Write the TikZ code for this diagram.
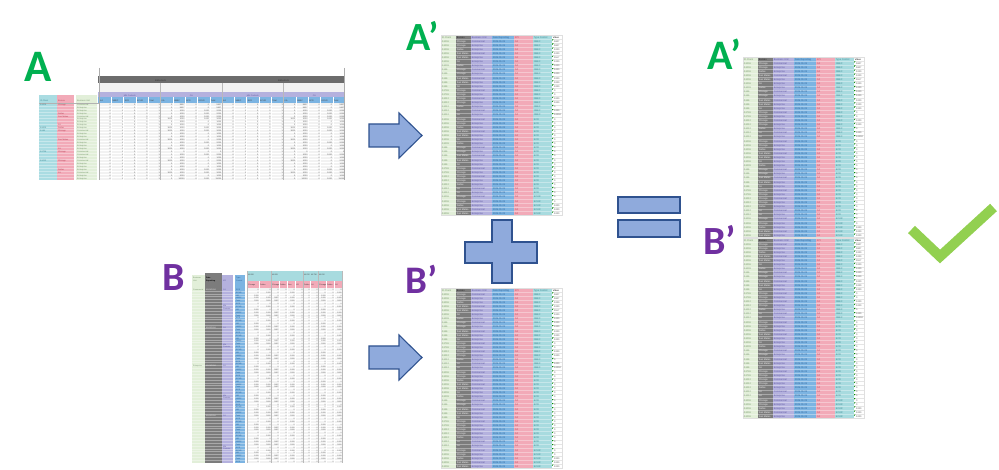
\documentclass[tikz,border=0pt]{standalone}
\usepackage{fontspec}
\setmainfont{Liberation Sans}
\newfontfamily\labelfont{Carlito}
\definecolor{agreen}{RGB}{0,176,80}
\definecolor{bpurple}{RGB}{112,48,160}
\definecolor{arrfill}{RGB}{143,170,220}
\definecolor{arrdraw}{RGB}{47,82,143}
\definecolor{chk}{RGB}{146,208,80}
\definecolor{cgreen}{RGB}{226,239,217}
\definecolor{cdark}{RGB}{124,124,124}
\definecolor{cpurple}{RGB}{180,177,222}
\definecolor{cblue}{RGB}{124,180,226}
\definecolor{cpink}{RGB}{242,170,184}
\definecolor{cteal}{RGB}{168,219,223}
\definecolor{ccyan}{RGB}{170,220,226}
\definecolor{clbg}{RGB}{242,242,242}
\definecolor{cbar}{RGB}{108,108,108}
\definecolor{tgreen}{RGB}{120,150,110}
\definecolor{tpurple}{RGB}{95,90,160}
\definecolor{tblue}{RGB}{45,95,150}
\definecolor{tred}{RGB}{185,70,90}
\definecolor{tteal}{RGB}{60,135,145}
\definecolor{tgray}{RGB}{85,85,85}
\tikzset{
  pc/.style={anchor=base west, inner sep=0pt, font=\fontsize{2.4}{2.4}\selectfont},
  ac/.style={anchor=base west, inner sep=0pt, font=\fontsize{2.1}{2.1}\selectfont},
  bc/.style={anchor=base west, inner sep=0pt, font=\fontsize{1.9}{1.9}\selectfont},
  big/.style={anchor=base west, inner sep=0pt, font=\labelfont\bfseries\fontsize{#1}{#1}\selectfont},
  blockshape/.style={fill=arrfill, draw=arrdraw, line width=1.1pt, line join=miter},
  rowline/.style={white, opacity=0.35, line width=0.3pt},
}
\newcommand\primerows{%
A1006/Chicago/Commercial/NBEC/5807,
A1006/Chicago/Enterprise/NBEC/5807,
A1006/Dallas/Enterprise/NBEC/1000,
A1006/San Mateo/Commercial/NBEC/1000,
A1006/San Mateo/Enterprise/NBEC/1167,
A1006/JH/Enterprise/NBEC/1000,
A1009/Dallas/Enterprise/NBEC/1000,
A146/Chicago/Commercial/NBEC/1000,
A146/Chicago/Enterprise/NBEC/1000,
A146/San Mateo/Commercial/NBEC/1000,
A146/San Mateo/Enterprise/NBEC/1000,
A146/JH/Enterprise/NBEC/1000,
A1736/Chicago/Commercial/NBEC/0,
A1736/Chicago/Enterprise/NBEC/0,
A1012/Chicago/Commercial/NBEC/1000,
A1012/Chicago/Enterprise/NBEC/1000,
A1012/Dallas/Enterprise/NBEC/0,
A1012/JH/Commercial/NBEC/1000,
A1012/JH/Enterprise/NBEC/10000,
A1006/Chicago/Commercial/ECR/0,
A1006/Chicago/Enterprise/ECR/0,
A1006/Dallas/Enterprise/ECR/0,
A1006/San Mateo/Commercial/ECR/0,
A1006/San Mateo/Enterprise/ECR/0,
A1006/JH/Enterprise/ECR/0,
A1009/Dallas/Enterprise/ECR/0,
A146/Chicago/Commercial/ECR/0,
A146/Chicago/Enterprise/ECR/0,
A146/San Mateo/Commercial/ECR/0,
A146/San Mateo/Enterprise/ECR/0,
A146/JH/Enterprise/ECR/0,
A1736/Chicago/Commercial/ECR/0,
A1736/Chicago/Enterprise/ECR/0,
A1012/Chicago/Commercial/ECR/0,
A1012/Chicago/Enterprise/ECR/0,
A1012/Dallas/Enterprise/ECR/0,
A1012/JH/Commercial/ECR/0,
A1012/JH/Enterprise/ECR/0,
A1006/Chicago/Commercial/ECUR/0,
A1006/Chicago/Enterprise/ECUR/0,
A1006/Dallas/Enterprise/ECUR/1000,
A1006/San Mateo/Commercial/ECUR/1000,
A1006/San Mateo/Enterprise/ECUR/1000}
\newcommand\primetable[2]{%
\begin{scope}[shift={(#1,#2)}]
  \fill[cgreen] (0,0) rectangle (15,180.4);
  \fill[cdark] (15,0) rectangle (30,180.4);
  \fill[cpurple] (30,0) rectangle (51,180.4);
  \fill[cblue] (51,0) rectangle (73,180.4);
  \fill[cpink] (73,0) rectangle (92,180.4);
  \fill[cteal] (92,0) rectangle (111,180.4);
  \fill[white] (111,0) rectangle (121,180.4);
  \foreach \r in {1,...,43}{
    \draw[rowline] (0,\r*4.1) -- (111,\r*4.1);
    \draw[gray!20, line width=0.3pt] (111,\r*4.1) -- (121,\r*4.1);
    \fill[green!55!black] (111.2,\r*4.1+0.3) -- ++(1.3,0) -- ++(-1.3,1.3) -- cycle;
  }
  \draw[gray!25, line width=0.3pt] (0,0) rectangle (121,180.4);
  \node[pc, text=tgreen] at (0.7,3.1) {ID Client};
  \node[pc, text=black!85] at (15.7,3.1) {Bureau};
  \node[pc, text=tpurple] at (30.7,3.1) {Business Unit};
  \node[pc, text=tblue] at (51.7,3.1) {Date Reporting};
  \node[pc, text=tred] at (73.7,3.1) {KPI};
  \node[pc, text=tteal] at (92.7,3.1) {Type Control};
  \node[pc, text=black] at (111.7,3.1) {Value};
  \foreach \id/\bur/\bu/\ty/\va [count=\i] in \primerows {
    \node[pc, text=tgreen] at (0.7,{3.1+\i*4.1}) {\id};
    \node[pc, text=gray!10] at (15.7,{3.1+\i*4.1}) {\bur};
    \node[pc, text=tpurple] at (30.7,{3.1+\i*4.1}) {\bu};
    \node[pc, text=tblue] at (51.7,{3.1+\i*4.1}) {2025-01-01};
    \node[pc, text=tred] at (73.7,{3.1+\i*4.1}) {CA};
    \node[pc, text=tteal] at (92.7,{3.1+\i*4.1}) {\ty};
    \node[pc, text=tgray] at (113,{3.1+\i*4.1}) {\va};
  }
\end{scope}}
\newcommand\nbx[1]{\makebox[12.3pt][r]{#1\hspace{0.8pt}}}
\newcommand\mktvals{\nbx{0}\nbx{1}\nbx{0}\nbx{0}\nbx{1}}
\newcommand\cavals[1]{\ifcase#1\relax
  \nbx{0}\nbx{5807}\nbx{0}\nbx{0}\nbx{5807}\or
  \nbx{0}\nbx{1000}\nbx{0}\nbx{1000}\nbx{2000}\or
  \nbx{1000}\nbx{1000}\nbx{0}\nbx{1000}\nbx{3000}\or
  \nbx{0}\nbx{1000}\nbx{0}\nbx{0}\nbx{1000}\or
  \nbx{0}\nbx{0}\nbx{0}\nbx{0}\nbx{0}\or
  \nbx{1000}\nbx{1000}\nbx{0}\nbx{0}\nbx{2000}\or
  \nbx{0}\nbx{10000}\nbx{0}\nbx{1000}\nbx{11000}\fi}
\newcommand\bx[2]{\makebox[#1pt][r]{#2\hspace{0.5pt}}}
\newcommand\btype[1]{\ifcase#1\relax ECR\or ECUR\or NB\or NBEC\or Total\fi}
\newcommand\bvals[1]{\ifcase#1\relax
  \bx{12}{0}\bx{12}{0}\bx{8}{0}\bx{8}{0}\bx{8}{0}\bx{8}{0}\bx{7}{0}\bx{8}{0}\bx{8}{0}\bx{8}{0}\bx{8}{0}\or
  \bx{12}{0}\bx{12}{1000}\bx{8}{0}\bx{8}{0}\bx{8}{1000}\bx{8}{0}\bx{7}{0}\bx{8}{0}\bx{8}{0}\bx{8}{0}\bx{8}{1000}\or
  \bx{12}{1000}\bx{12}{0}\bx{8}{0}\bx{8}{0}\bx{8}{0}\bx{8}{0}\bx{7}{0}\bx{8}{0}\bx{8}{1000}\bx{8}{0}\bx{8}{0}\or
  \bx{12}{1000}\bx{12}{1000}\bx{8}{3867}\bx{8}{0}\bx{8}{1000}\bx{8}{0}\bx{7}{0}\bx{8}{0}\bx{8}{1000}\bx{8}{0}\bx{8}{1000}\or
  \bx{12}{2000}\bx{12}{3000}\bx{8}{3867}\bx{8}{0}\bx{8}{2000}\bx{8}{0}\bx{7}{0}\bx{8}{0}\bx{8}{2000}\bx{8}{0}\bx{8}{3000}\fi}
\begin{document}
\begin{tikzpicture}[x=1pt,y=-1pt]
\useasboundingbox (0,0) rectangle (999,470);
\fill[white] (0,0) rectangle (999,470);

% ---------------- Table A ----------------
\fill[ccyan] (39,95) rectangle (57,180);
\fill[cpink] (57,95) rectangle (74,180);
\fill[cgreen] (76,95) rectangle (97,180);
\fill[clbg] (99,83) rectangle (345,92);
\fill[cbar] (98,76) rectangle (345,83);
\fill[cpurple] (98,92) rectangle (345,97.5);
\fill[cblue] (98,97.5) rectangle (345,103);
\fill[clbg] (99,103) rectangle (345,180);
\foreach \g in {0,...,3}{
  \foreach \k in {1,...,4}{
    \draw[white, line width=0.4pt] ({99+61.5*\g+12.3*\k},97.5) -- ({99+61.5*\g+12.3*\k},180);
  }
}
\foreach \r in {1,...,25}{
  \draw[rowline] (39,{103+\r*2.96}) -- (97,{103+\r*2.96});
  \draw[white, line width=0.3pt] (99,{103+\r*2.96}) -- (345,{103+\r*2.96});
}
\foreach \xx in {160.5,222,283.5}{
  \draw[gray!55, line width=0.4pt] (\xx,83) -- (\xx,180);
}
\draw[gray!65, line width=0.5pt] (99,68) -- (99,180);
\draw[gray!65, line width=0.5pt] (344.5,68) -- (344.5,180);
\draw[gray!60, line width=0.3pt] (39,103) -- (99,103);
\node[ac, anchor=base, text=black!85] at (160.5,81.2) {2025-01-01};
\node[ac, anchor=base, text=black!85] at (283.5,81.2) {2025-02-01};
\foreach \t [count=\g from 0] in {Mkt Controls,CA,Mkt Controls,CA}{
  \node[ac, anchor=base, text=tpurple] at ({129.75+61.5*\g},96.2) {\t};
  \foreach \s [count=\k from 0] in {KA,NBEC,ECR,ECUR,Total}{
    \node[ac, text=black!75] at ({100+61.5*\g+12.3*\k},101.6) {\s};
  }
}
\node[ac, text=tteal] at (40,101.6) {ID Client};
\node[ac, text=tred] at (58,101.6) {Bureau};
\node[ac, text=tgreen] at (77,101.6) {Business Unit};
\foreach \id/\bur/\bu/\ca [count=\i from 0] in {
  A1006/Chicago/Commercial/0, {}/{}/Enterprise/0, {}/{}/Enterprise/1,
  {}/Dallas/Enterprise/1, {}/San Mateo/Commercial/1, {}/{}/Enterprise/2,
  {}/{}/Enterprise/3, {}/JH/Enterprise/3, A1009/Dallas/Enterprise/2,
  A146/Chicago/Commercial/2, {}/{}/Enterprise/3, {}/{}/Enterprise/3,
  {}/San Mateo/Commercial/5, {}/{}/Enterprise/1, {}/{}/Enterprise/3,
  {}/JH/Enterprise/2, A1736/Chicago/Commercial/4, {}/{}/Commercial/1,
  {}/{}/Enterprise/3, A1012/Chicago/Commercial/5, {}/{}/Enterprise/3,
  {}/{}/Enterprise/3, {}/Dallas/Enterprise/1, {}/JH/Commercial/2,
  {}/{}/Enterprise/3, {}/{}/Enterprise/6}{
  \node[ac, text=tteal] at (40,{105.2+\i*2.96}) {\id};
  \node[ac, text=tred] at (58,{105.2+\i*2.96}) {\bur};
  \node[ac, text=tgreen] at (77,{105.2+\i*2.96}) {\bu};
  \node[ac, text=tgray] at (99,{105.2+\i*2.96}) {\mktvals\cavals{\ca}\mktvals\cavals{\ca}};
}

% ---------------- Table B ----------------
\fill[cgreen] (192,275) rectangle (205,463);
\fill[cdark] (205,273) rectangle (222,463);
\fill[cpurple] (222,275) rectangle (233,463);
\fill[cblue] (235,275) rectangle (245,463);
\fill[clbg] (247,288) rectangle (342,463);
\fill[cteal] (247,271) rectangle (342,281);
\fill[cpink] (247,281) rectangle (342,288);
\foreach \r in {1,...,60}{
  \draw[rowline] (192,{288+\r*2.87}) -- (245,{288+\r*2.87});
  \draw[white, line width=0.3pt] (247,{288+\r*2.87}) -- (342,{288+\r*2.87});
}
\foreach \xx in {259,279,287,295,310,326,334}{
  \draw[white, line width=0.4pt] (\xx,281) -- (\xx,463);
}
\foreach \xx in {247,271,303,318,342}{
  \draw[gray!55, line width=0.4pt] (\xx,271) -- (\xx,463);
}
\node[bc, text=tgreen] at (193,278.6) {Business};
\node[bc, text=tgreen] at (193,281.4) {Unit};
\node[bc, text=black, font=\fontsize{1.9}{1.9}\selectfont\bfseries] at (206,278.6) {Date};
\node[bc, text=black, font=\fontsize{1.9}{1.9}\selectfont\bfseries] at (206,281.4) {Reporting};
\node[bc, text=tpurple] at (223,281.4) {KPI};
\node[bc, text=tblue] at (236,278.6) {Type};
\node[bc, text=tblue] at (236,281.4) {Control};
\foreach \t/\xx in {A1006/248,A1009/272,A1012/304,A1736/311,A1012/319}{
  \node[bc, text=black!75] at (\xx,275.5) {\t};
}
\foreach \t/\xx in {Chicago/248,Dallas/260,Chicago/272,Dallas/280,San/288,US/296,Dallas/304,JH/311,Chicago/319,Dallas/327,JH/335}{
  \node[bc, text=black!75] at (\xx,285.4) {\t};
}
\foreach \t/\yy in {Commercial/290.3,Enterprise/366.5}{
  \node[bc, text=tgreen] at (193,\yy) {\t};
}
\foreach \t/\yy in {{01/01/2024}/290.3,{01/02/2024}/328.5,{01/01/2024}/366.5,{01/02/2024}/416.5}{
  \node[bc, text=gray!10] at (206,\yy) {\t};
}
\foreach \yy in {290.3,328.5,366.5,416.5}{
  \node[bc, text=tpurple] at (223,\yy) {CA};
}
\foreach \yy in {306.5,345,396,447}{
  \node[bc, text=tpurple] at (223,\yy) {Mkt};
  \node[bc, text=tpurple] at (223,\yy+2.6) {Controls};
}
\foreach \i in {0,...,60}{
  \pgfmathtruncatemacro\k{mod(\i,5)}
  \node[bc, text=tblue] at (236,{290.3+\i*2.87}) {\btype{\k}};
  \node[bc, text=tgray] at (247,{290.3+\i*2.87}) {\bvals{\k}};
}

% ---------------- A' / B' tables ----------------
\primetable{441}{35}
\primetable{441}{288}
\primetable{743}{57}
\primetable{743}{238}

% ---------------- labels ----------------
\node[big=45, text=agreen] (labA) at (24,82) {A};
\node[big=40, text=bpurple] (labB) at (162,291) {B};
\node[big=40, text=agreen] (labAp) at (406,51) {A’};
\node[big=39, text=bpurple] (labBp) at (405,294) {B’};
\node[big=42, text=agreen] (labApR) at (707,70) {A’};
\node[big=40, text=bpurple] (labBpR) at (703,255) {B’};

% ---------------- arrows, plus, equals, check ----------------
\draw[blockshape] (369,124) -- (399,124) -- (399,113) -- (422,135.5) -- (399,158) -- (399,147) -- (369,147) -- cycle;
\draw[blockshape] (369,346) -- (399,346) -- (399,335) -- (422,357.5) -- (399,380) -- (399,369) -- (369,369) -- cycle;
\draw[blockshape] (492,220) -- (512,220) -- (512,242) -- (537,242) -- (537,263) -- (512,263) -- (512,283) -- (492,283) -- (492,263) -- (465,263) -- (465,242) -- (492,242) -- cycle;
\draw[blockshape] (618,197) rectangle (680,213);
\draw[blockshape] (618,220) rectangle (680,237);
\draw[chk, line width=10pt, line join=miter] (911.5,229.5) -- (940,256.5) -- (993.5,207.5);
\end{tikzpicture}
\end{document}
